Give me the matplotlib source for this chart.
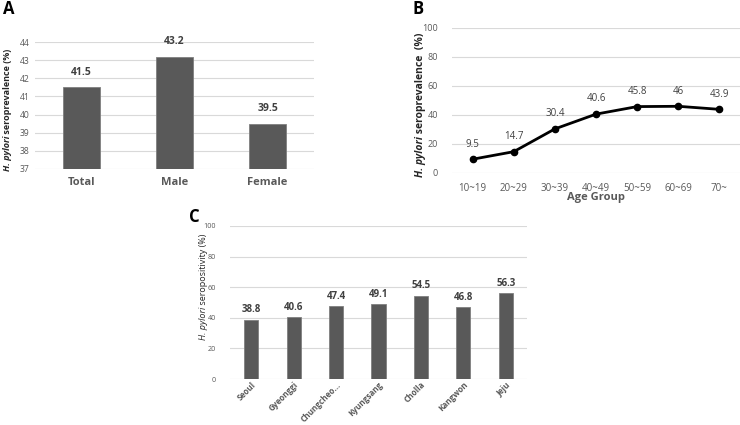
import matplotlib
matplotlib.use('Agg')
import matplotlib.pyplot as plt
import numpy as np

plt.rcParams['font.family'] = ['Open Sans', 'DejaVu Sans']

# Panel A data
sex_labels = ['Total', 'Male', 'Female']
sex_values = [41.5, 43.2, 39.5]

# Panel B data
age_labels = ['10~19', '20~29', '30~39', '40~49', '50~59', '60~69', '70~']
age_values = [9.5, 14.7, 30.4, 40.6, 45.8, 46, 43.9]

# Panel C data
region_labels = ['Seoul', 'Gyeonggi', 'Chungcheo...', 'Kyungsang', 'Cholla', 'Kangwon', 'Jeju']
region_values = [38.8, 40.6, 47.4, 49.1, 54.5, 46.8, 56.3]

W, H = 740, 425
BAR = '#595959'
GRID = '#d9d9d9'
TXT = '#595959'
VAL = '#404040'

fig = plt.figure(figsize=(W / 100, H / 100), dpi=100)


def px_axes(x0, y0, x1, y1):
    # pixel box (top-left origin) -> figure axes
    return fig.add_axes([x0 / W, 1 - y1 / H, (x1 - x0) / W, (y1 - y0) / H])


def style(ax):
    for s in ax.spines.values():
        s.set_visible(False)
    ax.grid(axis='y', color=GRID, linewidth=0.8)
    ax.set_axisbelow(True)
    ax.tick_params(length=0, colors=TXT)


def ylabel(xb, yc, rest, size, bold):
    # italic "H. pylori" + normal rest, drawn rotated along baseline
    w = 'bold' if bold else 'normal'
    r = fig.canvas.get_renderer()
    t1 = fig.text(xb / W, 0, 'H. pylori', rotation=90, rotation_mode='anchor',
                  ha='left', va='baseline', fontsize=size, style='italic',
                  fontweight=w, color='#262626')
    t2 = fig.text(xb / W, 0, ' ' + rest, rotation=90, rotation_mode='anchor',
                  ha='left', va='baseline', fontsize=size, fontweight=w,
                  color='#262626')
    h1 = t1.get_window_extent(r).height
    h2 = t2.get_window_extent(r).height
    y0 = (H - yc) - (h1 + h2) / 2
    t1.set_y(y0 / H)
    t2.set_y((y0 + h1) / H)


# A
axA = px_axes(35, 42, 314, 169)
style(axA)
xa = np.arange(len(sex_labels))
axA.bar(xa, [v - 37 for v in sex_values], bottom=37, width=0.4, color=BAR,
        edgecolor='#7f7f7f', linewidth=0.6)
axA.set_ylim(37, 44)
axA.set_xlim(-0.5, 2.5)
axA.set_yticks(range(37, 45))
axA.set_xticks(xa, sex_labels, fontsize=8, fontweight='bold')
axA.tick_params(axis='y', labelsize=6.2, pad=4)
axA.tick_params(axis='x', pad=6)
for x, v in zip(xa, sex_values):
    axA.annotate(f'{v}', (x, v), xytext=(0, 7), textcoords='offset points',
                 ha='center', va='bottom', fontsize=7.5, fontweight='bold', color=VAL)
fig.text(3 / W, 1 - 9 / H, 'A', fontsize=12, fontweight='bold', va='center')

# B
axB = px_axes(452, 28, 740, 173)
style(axB)
xb = np.arange(len(age_labels))
axB.plot(xb, age_values, color='black', linewidth=2, marker='o', markersize=4.5)
axB.set_ylim(0, 100)
axB.set_xlim(-0.5, len(age_labels) - 0.5)
axB.set_yticks(range(0, 101, 20))
axB.set_xticks(xb, age_labels, fontsize=7)
axB.tick_params(axis='y', labelsize=6.5, pad=10)
axB.tick_params(axis='x', pad=7)
for x, v in zip(xb, age_values):
    axB.annotate(f'{v:g}', (x, v), xytext=(0, 7), textcoords='offset points',
                 ha='center', va='bottom', fontsize=7, color=VAL)
fig.text(596 / W, 1 - 198 / H, 'Age Group', fontsize=8, fontweight='bold',
         color=TXT, ha='center', va='center')
fig.text(413 / W, 1 - 9 / H, 'B', fontsize=12, fontweight='bold', va='center')

# C
axC = px_axes(230, 226, 527, 379)
style(axC)
xc = np.arange(len(region_labels))
axC.bar(xc, region_values, width=0.33, color=BAR, edgecolor='#7f7f7f', linewidth=0.6)
axC.set_ylim(0, 100)
axC.set_xlim(-0.5, len(region_labels) - 0.5)
axC.set_yticks(range(0, 101, 20))
axC.set_xticks(xc, region_labels, fontsize=5.9, fontweight='bold', rotation=45,
               ha='right', rotation_mode='anchor')
axC.tick_params(axis='y', labelsize=5.2, pad=10)
axC.tick_params(axis='x', pad=1)
for x, v in zip(xc, region_values):
    axC.annotate(f'{v}', (x, v), xytext=(0, 3), textcoords='offset points',
                 ha='center', va='bottom', fontsize=7, fontweight='bold', color=VAL)
fig.text(189 / W, 1 - 217 / H, 'C', fontsize=12, fontweight='bold', va='center')

ylabel(10, 110, 'seroprevalence (%)', 6.5, True)
ylabel(423, 105, 'seroprevalence  (%)', 7.5, True)
ylabel(206, 287, 'seropositivity (%)', 6.5, False)

fig.savefig('out.png', dpi=100)
